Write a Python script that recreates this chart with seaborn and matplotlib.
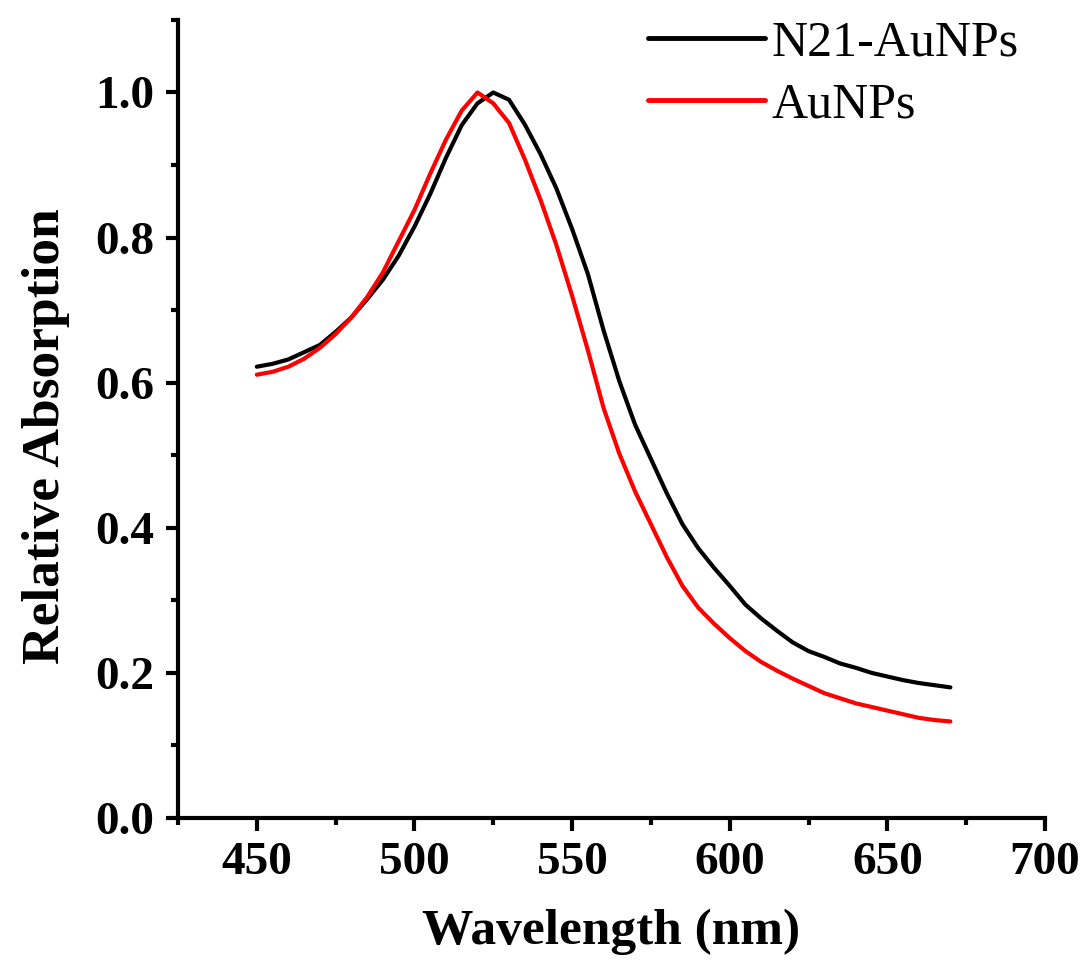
import numpy as np
import pandas as pd
import matplotlib
matplotlib.use('Agg')
import matplotlib.pyplot as plt
from matplotlib.ticker import MultipleLocator
import seaborn as sns

# wavelengths (nm), 5 nm steps
wavelength = list(range(450, 675, 5))

# N21-AuNPs
n21_aunps = [0.622, 0.626, 0.632, 0.642, 0.652, 0.670, 0.690, 0.715, 0.742, 0.775,
             0.815, 0.860, 0.910, 0.955, 0.985, 1.000, 0.990, 0.956, 0.915, 0.868,
             0.812, 0.750, 0.672, 0.602, 0.542, 0.495, 0.448, 0.405, 0.372, 0.345,
             0.320, 0.294, 0.275, 0.258, 0.242, 0.230, 0.222, 0.213, 0.207, 0.200,
             0.195, 0.190, 0.186, 0.183, 0.180]

# bare AuNPs
aunps = [0.611, 0.615, 0.622, 0.633, 0.648, 0.667, 0.690, 0.718, 0.752, 0.795,
         0.838, 0.888, 0.935, 0.975, 1.000, 0.985, 0.958, 0.908, 0.852, 0.790,
         0.720, 0.645, 0.565, 0.502, 0.450, 0.405, 0.360, 0.320, 0.290, 0.268,
         0.248, 0.230, 0.215, 0.203, 0.192, 0.182, 0.172, 0.165, 0.158, 0.153,
         0.148, 0.143, 0.138, 0.135, 0.133]

df = pd.DataFrame({
    'Wavelength': wavelength * 2,
    'Absorption': n21_aunps + aunps,
    'Sample': ['N21-AuNPs'] * len(wavelength) + ['AuNPs'] * len(wavelength),
})

sns.set_style('ticks')
plt.rcParams['font.family'] = ['Liberation Serif', 'DejaVu Serif']
plt.rcParams['text.color'] = 'black'
plt.rcParams['axes.labelcolor'] = 'black'
plt.rcParams['xtick.color'] = 'black'
plt.rcParams['ytick.color'] = 'black'
plt.rcParams['axes.edgecolor'] = 'black'

fig = plt.figure(figsize=(10.86, 9.63), dpi=100)
ax = fig.add_axes([0.1639, 0.1506, 0.7983, 0.8287])

sns.lineplot(data=df, x='Wavelength', y='Absorption', hue='Sample',
             palette={'N21-AuNPs': 'black', 'AuNPs': 'red'},
             linewidth=3, ax=ax)

ax.set_xlim(425, 700)
ax.set_ylim(0, 1.1)
ax.xaxis.set_major_locator(MultipleLocator(50))
ax.xaxis.set_minor_locator(MultipleLocator(25))
ax.yaxis.set_major_locator(MultipleLocator(0.2))
ax.yaxis.set_minor_locator(MultipleLocator(0.1))
ax.xaxis.set_major_formatter(plt.FuncFormatter(lambda v, p: '%d' % v if v >= 450 else ''))
ax.yaxis.set_major_formatter(plt.FuncFormatter(lambda v, p: '%.1f' % v))

for s in ['top', 'right']:
    ax.spines[s].set_visible(False)
for s in ['left', 'bottom']:
    ax.spines[s].set_linewidth(3)

ax.tick_params(which='major', length=9, width=3, labelsize=34, pad=8)
ax.tick_params(which='minor', length=5, width=3)
for lab in ax.get_xticklabels() + ax.get_yticklabels():
    lab.set_fontweight('bold')

ax.set_xlabel('Wavelength (nm)', fontsize=37, fontweight='bold', labelpad=18)
ax.set_ylabel('Relative Absorption', fontsize=38.5, fontweight='bold')
ax.yaxis.set_label_coords(-0.125, 0.479)

leg = ax.legend(loc='upper left', bbox_to_anchor=(0.542, 1.0), frameon=False,
                fontsize=36, handlelength=2.35, handletextpad=0.12,
                labelspacing=0.32, borderpad=0, borderaxespad=0)
for line in leg.get_lines():
    line.set_linewidth(3.5)

fig.savefig('out.png', dpi=100)
